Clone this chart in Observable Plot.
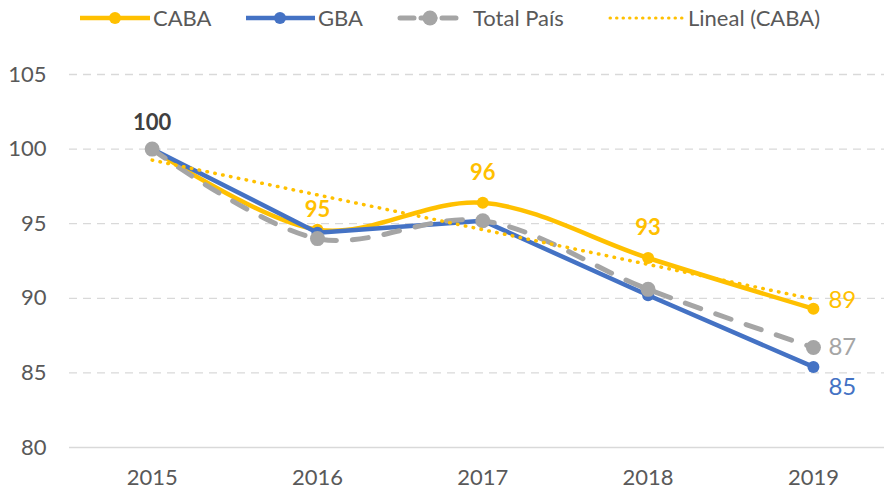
<!DOCTYPE html>
<html>
<head>
<meta charset="utf-8">
<script src="https://cdn.jsdelivr.net/npm/d3@7"></script>
<script src="https://cdn.jsdelivr.net/npm/@observablehq/plot@0.6"></script>
<style>
  html, body { margin: 0; padding: 0; background: #fff; }
  body { width: 884px; height: 493px; overflow: hidden; font-family: Lato, "Open Sans", sans-serif; }
  #legend { position: relative; width: 884px; height: 38px; }
  #legend .txt { position: absolute; top: 5px; font-size: 22px; color: #595959; line-height: 26px; }
  #legend svg { position: absolute; top: 0; left: 0; }
</style>
</head>
<body>
<div id="legend"></div>
<div id="chart"></div>
<script>
const years = [2015, 2016, 2017, 2018, 2019];
const caba  = [100, 94.6, 96.4, 92.7, 89.3];
const gba   = [100, 94.4, 95.2, 90.2, 85.4];
const total = [100, 94.0, 95.2, 90.6, 86.7];
const yTicks = [80, 85, 90, 95, 100, 105];
const seriesNames = ["CABA", "GBA", "Total País", "Lineal (CABA)"];

const cCaba = "#FFC000", cGba = "#4472C4", cTotal = "#A5A5A5";
const textColor = "#595959";

const rows = (vals, name) => years.map((y, i) => ({year: y, value: vals[i], series: name}));
const dCaba = rows(caba, "CABA");
const dGba = rows(gba, "GBA");
const dTotal = rows(total, "Total País");

// Legend
const legend = document.getElementById("legend");
const ls = d3.select(legend).append("svg").attr("width", 884).attr("height", 38);
const cy = 18;
ls.append("line").attr("x1", 80).attr("x2", 150).attr("y1", cy).attr("y2", cy)
  .attr("stroke", cCaba).attr("stroke-width", 4.5);
ls.append("circle").attr("cx", 115).attr("cy", cy).attr("r", 6).attr("fill", cCaba);
ls.append("line").attr("x1", 246).attr("x2", 315).attr("y1", cy).attr("y2", cy)
  .attr("stroke", cGba).attr("stroke-width", 4.5);
ls.append("circle").attr("cx", 280).attr("cy", cy).attr("r", 6).attr("fill", cGba);
ls.append("line").attr("x1", 400).attr("x2", 460).attr("y1", cy).attr("y2", cy)
  .attr("stroke", cTotal).attr("stroke-width", 5).attr("stroke-dasharray", "14,7").attr("stroke-linecap", "round");
ls.append("circle").attr("cx", 430).attr("cy", cy).attr("r", 7.5).attr("fill", cTotal);
ls.append("line").attr("x1", 610).attr("x2", 683).attr("y1", cy).attr("y2", cy)
  .attr("stroke", cCaba).attr("stroke-width", 3).attr("stroke-dasharray", "0.5,6").attr("stroke-linecap", "round");
const txtLeft = [153, 318, 473, 688];
seriesNames.forEach((n, i) => {
  const s = document.createElement("span");
  s.className = "txt"; s.style.left = txtLeft[i] + "px"; s.textContent = n;
  legend.appendChild(s);
});

const fmt = d => String(Math.round(d.value));

const plot = Plot.plot({
  width: 884,
  height: 455,
  marginTop: 36,
  marginBottom: 46,
  marginLeft: 69,
  marginRight: 0,
  style: { fontFamily: "Lato, 'Open Sans', sans-serif", fontSize: "22px", color: textColor, background: "#fff" },
  x: { type: "linear", domain: [2014.5, 2019.43] },
  y: { domain: [80, 105] },
  marks: [
    Plot.ruleY(yTicks.filter(t => t > 80), { stroke: "#D9D9D9", strokeWidth: 1.3, strokeDasharray: "8,6" }),
    Plot.ruleY([80], { stroke: "#D9D9D9", strokeWidth: 1.5 }),
    Plot.axisY({ ticks: yTicks, tickSize: 0, tickPadding: 23, fill: textColor, fontSize: 22, label: null }),
    Plot.axisX({ ticks: years, tickSize: 0, tickPadding: 22, tickFormat: d => String(d), fill: textColor, fontSize: 22, label: null }),
    Plot.line(dCaba, { x: "year", y: "value", stroke: cCaba, strokeWidth: 4.5, curve: "catmull-rom" }),
    Plot.dot(dCaba, { x: "year", y: "value", r: 6, fill: cCaba }),
    Plot.line(dGba, { x: "year", y: "value", stroke: cGba, strokeWidth: 4.5 }),
    Plot.dot(dGba, { x: "year", y: "value", r: 6, fill: cGba }),
    Plot.line(dTotal, { x: "year", y: "value", stroke: cTotal, strokeWidth: 5, curve: "catmull-rom", strokeDasharray: "16,16", strokeLinecap: "round" }),
    Plot.dot(dTotal, { x: "year", y: "value", r: 7.5, fill: cTotal }),
    Plot.linearRegressionY(dCaba, { x: "year", y: "value", stroke: cCaba, strokeWidth: 3.5, ci: 0, strokeDasharray: "0.5,7.5", strokeLinecap: "round" }),
    // data labels
    Plot.text(dTotal.slice(0, 1), { x: "year", y: "value", text: fmt, dy: -26, fill: "#404040", fontWeight: "bold", fontSize: 22 }),
    Plot.text(dCaba.slice(1, 2), { x: "year", y: "value", text: fmt, dy: -20, fill: cCaba, fontWeight: "bold", fontSize: 22 }),
    Plot.text(dCaba.slice(2, 4), { x: "year", y: "value", text: fmt, dy: -30, fill: cCaba, fontWeight: "bold", fontSize: 22 }),
    Plot.text(dCaba.slice(4), { x: "year", y: "value", text: fmt, dx: 15, dy: -8, textAnchor: "start", fill: cCaba, fontSize: 24 }),
    Plot.text(dTotal.slice(4), { x: "year", y: "value", text: fmt, dx: 15, dy: 0, textAnchor: "start", fill: cTotal, fontSize: 24 }),
    Plot.text(dGba.slice(4), { x: "year", y: "value", text: fmt, dx: 15, dy: 20, textAnchor: "start", fill: cGba, fontSize: 24 })
  ]
});
document.getElementById("chart").appendChild(plot);
</script>
</body>
</html>
